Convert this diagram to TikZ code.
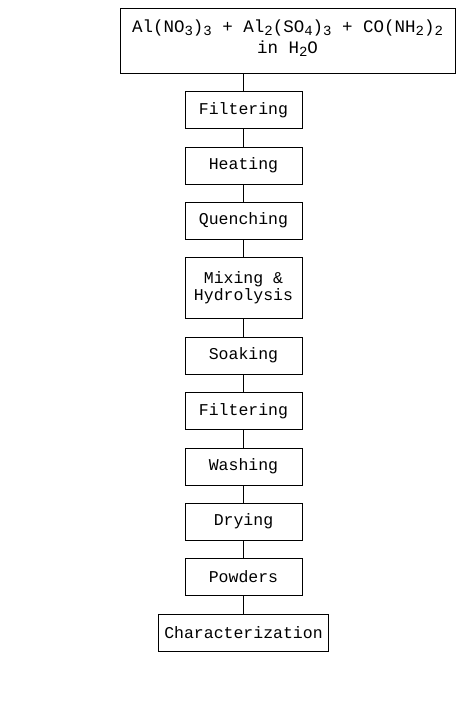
\documentclass[tikz,border=0pt]{standalone}
\usepackage{fontspec}
\setmonofont{Liberation Mono}
\usetikzlibrary{positioning}

\newcommand{\chsub}[1]{\raisebox{-0.3ex}{\fontsize{14}{14}\selectfont #1}}

\begin{document}
\begin{tikzpicture}[x=1pt, y=1pt, node distance=18pt,
  stepbox/.style={draw, minimum width=117pt, minimum height=37pt,
                  align=center, inner sep=3pt,
                  font=\fontsize{16.5}{17}\selectfont\ttfamily},
  link/.style={semithick}]

  \useasboundingbox (0,0) rectangle (467,-722);

  \node[stepbox, minimum width=335pt, minimum height=65pt,
        font=\fontsize{17.5}{18}\selectfont\ttfamily] (src) at (287.5,-40.5)
    {Al(NO\chsub{3})\chsub{3} + Al\chsub{2}(SO\chsub{4})\chsub{3} + CO(NH\chsub{2})\chsub{2}\\[3pt]in H\chsub{2}O\\[-10pt]};

  \node[stepbox, below=of src.south, anchor=north, xshift=-44pt] (filt1) {Filtering};
  \node[stepbox, below=of filt1]  (heat)  {Heating};
  \node[stepbox, below=of heat]   (quen)  {Quenching};
  \node[stepbox, below=of quen, minimum height=61pt] (mix) {Mixing \&\\Hydrolysis};
  \node[stepbox, below=of mix]    (soak)  {Soaking};
  \node[stepbox, below=of soak]   (filt2) {Filtering};
  \node[stepbox, below=of filt2]  (wash)  {Washing};
  \node[stepbox, below=of wash]   (dry)   {Drying};
  \node[stepbox, below=of dry]    (powd)  {Powders};
  \node[stepbox, below=of powd, minimum width=170pt] (char) {Characterization};

  \draw[link] (filt1.north) -- (filt1.north |- src.south);
  \draw[link] (filt1) -- (heat);
  \draw[link] (heat)  -- (quen);
  \draw[link] (quen)  -- (mix);
  \draw[link] (mix)   -- (soak);
  \draw[link] (soak)  -- (filt2);
  \draw[link] (filt2) -- (wash);
  \draw[link] (wash)  -- (dry);
  \draw[link] (dry)   -- (powd);
  \draw[link] (powd)  -- (char);
\end{tikzpicture}
\end{document}
